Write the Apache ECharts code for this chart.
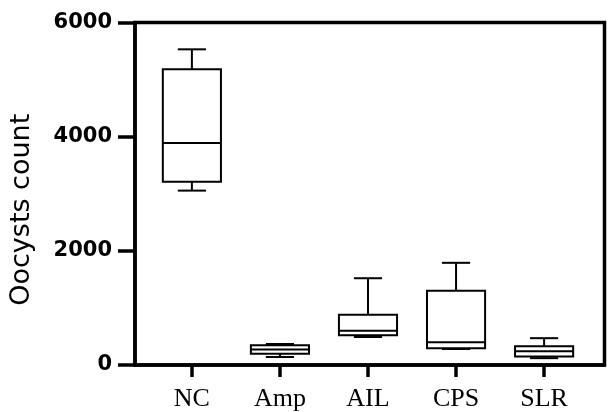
<!DOCTYPE html>
<html>
<head>
<meta charset="utf-8">
<script src="https://cdn.jsdelivr.net/npm/echarts@6/dist/echarts.min.js"></script>
<style>
  html, body { margin: 0; padding: 0; background: #fff; }
  #chart { width: 608px; height: 412px; }
</style>
</head>
<body>
<div id="chart"></div>
<script>
// groups on the x axis
const categories = ["NC", "Amp", "AIL", "CPS", "SLR"];
// box plot values
const mins = [3055, 140, 490, 280, 120];
const q1s = [3210, 195, 520, 295, 150];
const medians = [3890, 270, 600, 400, 240];
const q3s = [5180, 345, 880, 1300, 330];
const maxs = [5530, 368, 1520, 1790, 470];
// y ticks
const yTicks = [0, 2000, 4000, 6000];

const BOX_W = 0.66; // in x units
const CAP_W = 0.32;

const data = categories.map((c, i) => [i + 1, mins[i], q1s[i], medians[i], q3s[i], maxs[i]]);

const myChart = echarts.init(document.getElementById("chart"));

const renderBox = (params, api) => {
  const x = api.value(0);
  const pMin = api.coord([x, api.value(1)]);
  const pQ1 = api.coord([x, api.value(2)]);
  const pMed = api.coord([x, api.value(3)]);
  const pQ3 = api.coord([x, api.value(4)]);
  const pMax = api.coord([x, api.value(5)]);
  const bw = api.size([BOX_W, 0])[0];
  const cw = api.size([CAP_W, 0])[0];
  const cx = pMed[0];
  const style = { stroke: "#000", lineWidth: 2, fill: null };
  const line = (x1, y1, x2, y2) => ({ type: "line", shape: { x1, y1, x2, y2 }, style });
  return {
    type: "group",
    children: [
      // whiskers
      line(cx, pMax[1], cx, pQ3[1]),
      line(cx, pQ1[1], cx, pMin[1]),
      line(cx - cw / 2, pMax[1], cx + cw / 2, pMax[1]),
      line(cx - cw / 2, pMin[1], cx + cw / 2, pMin[1]),
      // box
      { type: "rect", shape: { x: cx - bw / 2, y: pQ3[1], width: bw, height: pQ1[1] - pQ3[1] }, style: { stroke: "#000", lineWidth: 2, fill: "#fff" } },
      line(cx - bw / 2, pMed[1], cx + bw / 2, pMed[1]),
    ],
  };
};

const options = {
  animation: false,
  grid: {
    left: 135,
    right: 3.5,
    top: 22.5,
    bottom: 43,
    show: true,
    borderColor: "#000",
    borderWidth: 3.5,
  },
  xAxis: {
    type: "value",
    min: 0.354,
    max: 5.686,
    splitLine: { show: false },
    axisLine: { lineStyle: { color: "#000", width: 3.5 } },
    axisTick: {
      customValues: [1, 2, 3, 4, 5],
      length: 12,
      lineStyle: { color: "#000", width: 3.5 },
    },
    axisLabel: {
      customValues: [1, 2, 3, 4, 5],
      formatter: (v) => categories[Math.round(v) - 1],
      color: "#000",
      fontFamily: "Liberation Serif",
      fontSize: 26,
      margin: 21,
    },
  },
  yAxis: {
    type: "value",
    min: yTicks[0],
    max: yTicks[yTicks.length - 1],
    interval: 2000,
    splitLine: { show: false },
    axisLine: { lineStyle: { color: "#000", width: 3.5 } },
    axisTick: { length: 17, lineStyle: { color: "#000", width: 3.5 } },
    axisLabel: {
      formatter: (v) => String(v),
      color: "#000",
      fontFamily: "DejaVu Sans",
      fontWeight: "bold",
      fontSize: 21,
      margin: 23,
    },
    name: "Oocysts count",
    nameLocation: "middle",
    nameGap: 100,
    nameTextStyle: {
      color: "#000",
      fontFamily: "DejaVu Sans",
      fontSize: 27,
      padding: [0, 32, 0, 0],
    },
  },
  series: [
    {
      type: "custom",
      renderItem: renderBox,
      encode: { x: 0, y: [1, 2, 3, 4, 5] },
      data: data,
    },
  ],
};

myChart.setOption(options);
</script>
</body>
</html>
